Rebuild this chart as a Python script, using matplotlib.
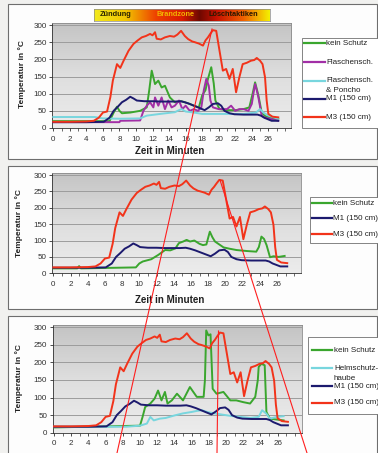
import numpy as np
import matplotlib
matplotlib.use("Agg")
import matplotlib.pyplot as plt
from matplotlib.lines import Line2D
from matplotlib.patches import Rectangle
from matplotlib.colors import LinearSegmentedColormap

plt.rcParams['font.family'] = ['Liberation Sans', 'DejaVu Sans']

# M3 (150 cm) und M1 (150 cm) sind in allen drei Diagrammen gleich
t_m3 = [0, 2, 4, 4.9, 5.5, 6.0, 6.5, 6.9, 7.2, 7.7, 8.1, 8.5, 9.1, 9.7, 10.2, 10.7,
        11.2, 11.7, 12.0, 12.3, 12.5, 13.0, 13.5, 14.1, 14.6, 15.0, 15.45, 15.9,
        16.3, 16.8, 17.1, 17.6, 18.1, 18.4, 18.7, 19.0, 19.3, 19.7, 20.1, 20.5,
        20.9, 21.3, 21.7, 22.1, 22.5, 22.9, 23.4, 23.9, 24.3, 24.6, 25.0, 25.3,
        25.6, 25.8, 26.0, 26.5, 27.2]
v_m3 = [18, 18, 19, 21, 30, 45, 48, 90, 138, 186, 175, 196, 225, 245, 255, 264,
        268, 274, 270, 279, 260, 258, 264, 268, 266, 272, 283, 268,
        259, 252, 250, 246, 240, 255, 264, 275, 285, 283, 225, 167,
        172, 143, 172, 104, 148, 186, 190, 196, 198, 204, 196, 186,
        148, 80, 41, 33, 31]

t_m1 = [0, 4, 6.1, 6.8, 7.3, 7.8, 8.3, 8.8, 9.3, 9.7, 10.1, 11, 12, 13, 14, 14.7,
        15.4, 15.9, 16.5, 17.0, 17.5, 18.0, 18.3, 18.8, 19.3, 19.9, 20.3, 20.7,
        21.3, 21.9, 23, 24, 24.7, 25.1, 25.5, 26.0, 26.4, 27.2]
v_m1 = [17, 17, 18, 30, 50, 62, 75, 82, 91, 86, 80, 78, 78, 77, 77, 77,
        78, 75, 70, 65, 60, 55, 52, 60, 70, 72, 65, 50,
        43, 40, 39, 39, 39, 36, 30, 25, 21, 21]

# Diagramm 1
t_g1 = [0, 6.8, 7.3, 7.7, 8.0, 8.3, 9.3, 10.5, 11.3, 11.6, 11.9, 12.3, 12.7, 13.1,
        13.5, 14.1, 14.7, 15.5, 16.3, 17.0, 17.6, 18.0, 18.4, 18.7, 19.1, 19.4,
        19.6, 20.1, 21.0, 22.0, 23.0, 23.7, 24.1, 24.4, 24.8, 25.2, 25.6, 26.4, 27.2]
v_g1 = [20, 20, 45, 62, 50, 43, 45, 50, 60, 110, 167, 128, 138, 118,
        123, 89, 75, 78, 72, 65, 60, 95, 110, 143, 177, 130,
        80, 55, 52, 52, 55, 60, 100, 133, 95, 45, 35, 29, 27]

t_p1 = [0, 8.0, 8.1, 10.5, 10.9, 11.3, 11.7, 12.1, 12.3, 12.7, 13.1, 13.5, 13.9,
        14.3, 14.7, 15.2, 15.6, 16.0, 16.5, 17.0, 17.5, 17.9, 18.2, 18.5, 18.8,
        19.0, 19.3, 20.0, 21.0, 21.5, 22.0, 22.5, 23.0, 23.6, 24.0, 24.2, 24.4,
        24.6, 24.8, 25.2, 25.6, 26.4, 27.2]
v_p1 = [17, 17, 21, 22, 50, 65, 75, 60, 89, 65, 89, 55, 80,
        60, 65, 80, 55, 65, 50, 55, 50, 60, 110, 143, 123,
        80, 60, 55, 55, 65, 50, 55, 55, 50, 70, 100, 128,
        110, 89, 36, 30, 26, 21]

t_c1 = [0, 5.0, 6.0, 8, 10.5, 11.3, 12.9, 14.7, 15.2, 15.5, 16.0, 17.0, 18.0, 19.5,
        21, 23, 24.5, 25.0, 25.4, 26.0, 27.2]
v_c1 = [32, 32, 28, 27, 28, 36, 41, 46, 52, 55, 48, 45, 41, 41,
        41, 41, 45, 55, 45, 36, 27]

# Diagramm 2
t_g2 = [0, 2.8, 3.0, 3.2, 9.6, 10.0, 10.4, 11.4, 12.2, 13.0, 13.6, 14.2, 14.6, 15.1,
        15.5, 15.9, 16.4, 17.0, 17.4, 17.8, 18.2, 18.5, 18.8, 19.3, 19.8, 20.5,
        21.3, 22.5, 23.6, 23.9, 24.2, 24.5, 24.8, 25.2, 25.6, 26.2, 26.9]
v_g2 = [15, 15, 22, 15, 18, 30, 36, 43, 56, 71, 70, 76, 92, 97,
        102, 97, 100, 90, 86, 88, 127, 110, 97, 88, 79, 75,
        71, 68, 66, 80, 112, 105, 86, 49, 52, 50, 53]

# Diagramm 3
t_g3 = [0, 10.0, 10.3, 10.6, 11.2, 11.7, 12.1, 12.5, 12.9, 13.2, 13.7, 14.3, 15.0,
        15.8, 16.6, 17.4, 17.55, 17.7, 17.95, 18.2, 18.45, 18.9, 19.7, 20.5, 21.2,
        22.0, 22.8, 23.4, 23.7, 23.8, 24.1, 24.5, 24.7, 25.1, 26.7]
v_g3 = [15, 20, 45, 73, 83, 97, 120, 92, 116, 83, 92, 111, 92,
        130, 102, 102, 150, 291, 277, 280, 125, 111, 116, 92, 92,
        87, 83, 102, 150, 187, 196, 192, 59, 40, 35]

t_c3 = [0, 8.4, 10.0, 10.8, 11.2, 11.6, 12.3, 13.0, 14.0, 15.0, 16.0, 16.6, 17.2,
        17.8, 18.9, 20.5, 22.8, 23.8, 24.2, 24.7, 25.1, 25.9, 26.7]
v_c3 = [17, 17, 20, 26, 45, 35, 40, 42, 49, 55, 59, 62, 64,
        59, 54, 48, 42, 45, 64, 54, 40, 45, 47]

GREEN = '#3aa62e'
PURPLE = '#a22fa6'
CYAN = '#78d6de'
NAVY = '#1c1a6e'
RED = '#f2331a'

W, H = 378, 453
fig = plt.figure(figsize=(W / 100, H / 100), dpi=100, facecolor='#f1f1ef')


def fx(x):
    return x / W


def fy(y):
    return 1 - y / H


def rahmen(x1, y1, x2, y2, fc='#fdfdfd', ec='#6e6e6e', lw=0.8, z=0):
    fig.add_artist(Rectangle((fx(x1), fy(y2)), fx(x2 - x1), (y2 - y1) / H,
                             transform=fig.transFigure, fc=fc, ec=ec, lw=lw, zorder=z))


def legende(box, eintraege, x_line, x_text):
    rahmen(*box, fc='white', ec='#707070', lw=0.6, z=1)
    for text, farbe, y in eintraege:
        if farbe is not None:
            fig.add_artist(Line2D([fx(x_line[0]), fx(x_line[1])], [fy(y), fy(y)],
                                  transform=fig.transFigure, color=farbe, lw=1.6, zorder=2))
        fig.text(fx(x_text), fy(y), text, fontsize=5.8, va='center', ha='left',
                 color='#202020', zorder=3)


verlauf = LinearSegmentedColormap.from_list('grau', ['#c4c4c4', '#dedede', '#ececec'])


def diagramm(x0, s, y0, y300, serien, ylabel_pos, xlabel_y=None):
    links = x0 - 0.15 * s
    rechts = x0 + 28.8 * s
    oben = y0 - (y0 - y300) * 306 / 300
    ax = fig.add_axes([fx(links), fy(y0), (rechts - links) / W, (y0 - oben) / H])
    ax.imshow(np.linspace(0, 1, 100).reshape(-1, 1), extent=[0, 1, 0, 1],
              transform=ax.transAxes, aspect='auto', cmap=verlauf, zorder=0)
    for t, v, farbe in serien:
        ax.plot(t, v, color=farbe, lw=1.4, zorder=3)
    ax.set_xlim(-0.15, 28.8)
    ax.set_ylim(0, 306)
    ax.set_yticks(range(0, 301, 50))
    ax.set_xticks(range(0, 27, 2))
    ax.set_xticks(range(0, 29), minor=True)
    ax.yaxis.grid(True, color='#9c9c9c', lw=0.7, zorder=1)
    ax.tick_params(labelsize=5.8, length=2, width=0.6, pad=2, colors='#303030')
    ax.tick_params(axis='x', which='minor', length=2, width=0.5, colors='#303030')
    ax.tick_params(axis='x', pad=3.5)
    for sp in ax.spines.values():
        sp.set_color('#8a8a8a')
        sp.set_linewidth(0.6)
    ax.spines['left'].set_color('#303030')
    ax.spines['bottom'].set_color('#303030')
    fig.text(fx(ylabel_pos[0]), fy(ylabel_pos[1]), 'Temperatur in °C', rotation=90,
             fontsize=6, fontweight='bold', ha='center', va='center', color='#202020')
    if xlabel_y is not None:
        fig.text(fx(170), fy(xlabel_y), 'Zeit in Minuten', fontsize=7, fontweight='bold',
                 ha='center', va='center', color='#202020')
    return ax


# Panel-Rahmen
rahmen(8, 4, 377, 159)
rahmen(8, 166, 377, 309)
rahmen(8, 316, 377, 462)

# Diagramm 1
diagramm(53.3, 8.27, 128, 25,
         [(t_g1, v_g1, GREEN), (t_p1, v_p1, PURPLE), (t_c1, v_c1, CYAN),
          (t_m1, v_m1, NAVY), (t_m3, v_m3, RED)],
         (21.7, 74), xlabel_y=151)
legende((302, 38, 380, 128),
        [('kein Schutz', GREEN, 43.3), ('Flaschensch.', PURPLE, 62.3),
         ('Flaschensch.', CYAN, 80.7), ('& Poncho', None, 90.7),
         ('M1 (150 cm)', NAVY, 99), ('M3 (150 cm)', RED, 117.3)],
        (304, 325), 326)

# Farbbalken Zündung / Brandzone / Löschtaktiken
band = LinearSegmentedColormap.from_list('band', [
    (0.0, '#f2ea1e'), (0.18, '#f2c400'), (0.35, '#ee4200'), (0.5, '#d81a00'),
    (0.6, '#6e0800'), (0.7, '#c81200'), (0.85, '#f06000'), (1.0, '#f4f000')])
bax = fig.add_axes([fx(94), fy(21), (270 - 94) / W, 12 / H])
bax.imshow(np.linspace(0, 1, 256).reshape(1, -1), aspect='auto', cmap=band)
bax.set_xticks([])
bax.set_yticks([])
for sp in bax.spines.values():
    sp.set_color('#8a8a8a')
    sp.set_linewidth(0.5)
fig.text(fx(116), fy(15), 'Zündung', fontsize=5.3, fontweight='bold', ha='center',
         va='center', color='#2a2400')
fig.text(fx(176), fy(15), 'Brandzone', fontsize=5.3, fontweight='bold', ha='center',
         va='center', color='#f2b400')
fig.text(fx(233), fy(15), 'Löschtaktiken', fontsize=5.3, fontweight='bold', ha='center',
         va='center', color='#2a1800')

# Diagramm 2
diagramm(53.3, 8.6, 273.3, 175,
         [(t_g2, v_g2, GREEN), (t_m1, v_m1, NAVY), (t_m3, v_m3, RED)],
         (19.3, 223), xlabel_y=300)
legende((310, 196.7, 380, 243.3),
        [('kein Schutz', GREEN, 203.3), ('M1 (150 cm)', NAVY, 218.3),
         ('M3 (150 cm)', RED, 234)],
        (311.7, 331.7), 333)

# Diagramm 3
diagramm(54, 8.6, 432.7, 327.3,
         [(t_g3, v_g3, GREEN), (t_c3, v_c3, CYAN), (t_m1, v_m1, NAVY), (t_m3, v_m3, RED)],
         (19.3, 378))
legende((308, 337, 380, 414),
        [('kein Schutz', GREEN, 350), ('Helmschutz-', CYAN, 368), ('haube', None, 378.5),
         ('M1 (150 cm)', NAVY, 386), ('M3 (150 cm)', RED, 403)],
        (312, 332), 334)

# rote Markierungslinien
for xs, ys in [([212, 117], [29, 453]), ([220, 307], [180, 453]), ([218.5, 217], [331, 453])]:
    fig.add_artist(Line2D([fx(x) for x in xs], [fy(y) for y in ys],
                          transform=fig.transFigure, color='#ff1e1e', lw=0.8, zorder=10))

fig.savefig('out.png', dpi=100, facecolor=fig.get_facecolor())
